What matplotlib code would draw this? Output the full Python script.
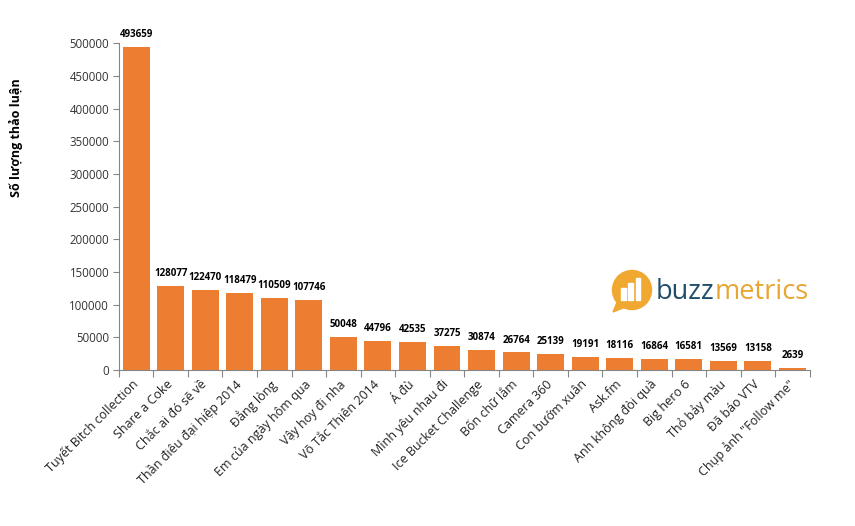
import numpy as np
import matplotlib.pyplot as plt
from matplotlib.patches import Circle, Rectangle, Polygon

categories = ['Tuyết Bitch collection', 'Share a Coke', 'Chắc ai đó sẽ về',
              'Thần điêu đại hiệp 2014', 'Đẳng lòng', 'Em của ngày hôm qua',
              'Vậy hoy đi nha', 'Võ Tắc Thiên 2014', 'Á đù', 'Mình yêu nhau đi',
              'Ice Bucket Challenge', 'Bốn chữ lắm', 'Camera 360', 'Con bướm xuân',
              'Ask.fm', 'Anh không đòi quà', 'Big hero 6', 'Thỏ bảy màu',
              'Đã báo VTV', 'Chụp ảnh "Follow me"']
values = [493659, 128077, 122470, 118479, 110509, 107746, 50048, 44796, 42535,
          37275, 30874, 26764, 25139, 19191, 18116, 16864, 16581, 13569, 13158, 2639]
y_ticks = [0, 50000, 100000, 150000, 200000, 250000, 300000, 350000, 400000,
           450000, 500000]

plt.rcParams['font.family'] = ['Open Sans', 'DejaVu Sans']

fig = plt.figure(figsize=(8.55, 5.26), dpi=100)
ax = fig.add_axes([0.139, 0.2966, 0.808, 0.6214])

x = np.arange(len(categories))
ax.bar(x, values, width=0.78, color='#ED7D31')

for xi, v in zip(x, values):
    ax.annotate(str(v), (xi, v), xytext=(0, 5), textcoords='offset points',
                ha='center', va='bottom', fontsize=7, fontweight='bold',
                color='black', annotation_clip=False)

ax.set_xlim(-0.5, len(categories) - 0.5)
ax.set_ylim(0, 500000)
ax.set_yticks(y_ticks)
ax.set_yticklabels([str(t) for t in y_ticks], fontsize=8.3, color='#333333')

# tick marks between the categories, labels under the bars
ax.set_xticks(np.arange(len(categories) + 1) - 0.5)
ax.set_xticklabels([])
ax.set_xticks(x, minor=True)
ax.set_xticklabels(categories, minor=True, rotation=45, ha='right', va='center',
                   rotation_mode='anchor', fontsize=9, color='#222222')
ax.tick_params(axis='x', which='minor', length=0, pad=9)
ax.tick_params(axis='x', which='major', length=5, color='#868686')
ax.tick_params(axis='y', length=4, color='#868686', pad=3)

for s in ['top', 'right']:
    ax.spines[s].set_visible(False)
for s in ['left', 'bottom']:
    ax.spines[s].set_color('#868686')

fig.text(0.019, 0.738, 'Số lượng thảo luận', rotation=90, ha='center',
         va='center', fontsize=9, fontweight='bold')

# buzzmetrics logo, drawn in pixel coordinates
logo = fig.add_axes([0, 0, 1, 1], zorder=5)
logo.set_xlim(0, 855)
logo.set_ylim(526, 0)
logo.axis('off')
logo.patch.set_alpha(0)
logo.add_patch(Circle((632, 290), 19.5, color='#F0A830'))
logo.add_patch(Polygon([[618, 300], [613, 312], [628, 306]], color='#F0A830'))
for bx, top in [(621, 288), (628, 283), (635.5, 278)]:
    logo.add_patch(Rectangle((bx, top), 4.5, 300 - top, color='white'))
t1 = logo.text(656, 292, 'buzz', color='#1F4E6B', fontsize=19.5,
               va='center', ha='left')
fig.canvas.draw()
bb = t1.get_window_extent()
logo.text(bb.x1, 292, 'metrics', color='#E8A530', fontsize=19.5,
          va='center', ha='left')

fig.savefig('out.png', dpi=100)
